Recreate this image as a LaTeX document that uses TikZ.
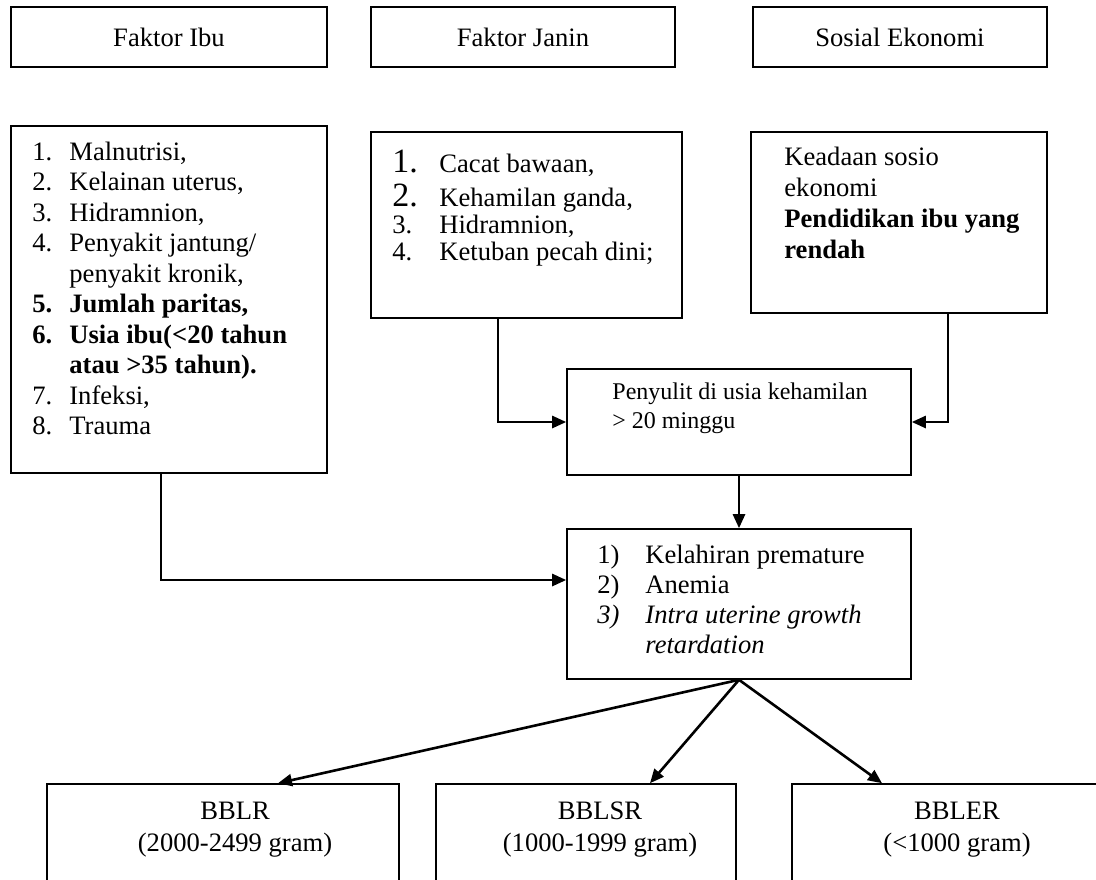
\documentclass[tikz,border=0pt]{standalone}
\usepackage{fontspec}
\setmainfont{Liberation Serif}
\usetikzlibrary{arrows.meta}

\begin{document}
\begin{tikzpicture}[x=0.5pt, y=-0.5pt,
                    every node/.style={font=\fontsize{13.3}{15.25}\selectfont},
                    kotak/.style={draw, line width=0.8pt, inner sep=0pt},
                    isi/.style={inner sep=0pt, anchor=base west},
                    panah/.style={line width=1.3pt, -{Triangle[length=7pt,width=6pt]}}]
  % page frame; the bottom row of boxes runs off the page
  \useasboundingbox (0,0) rectangle (1096,879);
  \clip (0,0) rectangle (1096,879);
  % header row
  \node[kotak, minimum width=158pt, minimum height=30pt] (fIbu)    at (169,37) {Faktor Ibu};
  \node[kotak, minimum width=152pt, minimum height=30pt] (fJanin)  at (523,37) {Faktor Janin};
  \node[kotak, minimum width=147pt, minimum height=30pt] (fSosial) at (900,37) {Sosial Ekonomi};
  % detail boxes
  \node[kotak, minimum width=158pt,   minimum height=173.5pt] (dIbu)    at (169,299.5) {};
  \node[kotak, minimum width=155.5pt, minimum height=93pt]    (dJanin)  at (526.5,225) {};
  \node[kotak, minimum width=148pt,   minimum height=90.5pt]  (dSosial) at (899,222.5) {};
  \node[isi] (tIbu) at (32,160) {\begin{tabular}[t]{@{}p{18.5pt}@{}l@{}}
    1. & Malnutrisi,\\
    2. & Kelainan uterus,\\
    3. & Hidramnion,\\
    4. & Penyakit jantung/\\
       & penyakit kronik,\\
    \textbf{5.} & \textbf{Jumlah paritas,}\\
    \textbf{6.} & \textbf{Usia ibu(<20 tahun}\\
       & \textbf{atau >35 tahun).}\\
    7. & Infeksi,\\
    8. & Trauma
  \end{tabular}};
  \node[isi, font=\fontsize{13.3}{13.5}\selectfont] (tJanin) at (392,172) {\begin{tabular}[t]{@{}p{23.5pt}@{}l@{}}
    {\fontsize{17}{17}\selectfont 1.} & Cacat bawaan,\\[2pt]
    {\fontsize{17}{17}\selectfont 2.} & Kehamilan ganda,\\
    3. & Hidramnion,\\
    4. & Ketuban pecah dini;
  \end{tabular}};
  \node[isi, font=\fontsize{13.3}{15.5}\selectfont] (tSosial) at (784,165) {\begin{tabular}[t]{@{}l@{}}
    Keadaan sosio\\
    ekonomi\\
    \textbf{Pendidikan ibu yang}\\
    \textbf{rendah}
  \end{tabular}};
  % middle: complication and result
  \node[kotak, minimum width=172pt, minimum height=53pt] (penyulit) at (739,422) {};
  \node[isi, font=\fontsize{12}{14.5}\selectfont] (tPenyulit) at (612,399) {\begin{tabular}[t]{@{}l@{}}
    Penyulit di usia kehamilan\\
    > 20 minggu
  \end{tabular}};
  \node[kotak, minimum width=172pt, minimum height=75pt] (hasil) at (739,604) {};
  \node[isi, font=\fontsize{13.3}{15.15}\selectfont] (tHasil) at (597,563) {\begin{tabular}[t]{@{}p{24pt}@{}l@{}}
    1) & Kelahiran premature\\
    2) & Anemia\\
    \textit{3)} & \textit{Intra uterine growth}\\
       & \textit{retardation}
  \end{tabular}};
  % birth weight classes
  \node[kotak, minimum width=176pt, minimum height=58pt] (bblr)  at (223,842) {};
  \node[kotak, minimum width=150pt, minimum height=58pt] (bblsr) at (586,842) {};
  \node[kotak, minimum width=153pt, minimum height=58pt] (bbler) at (945,842) {};
  \node[isi, anchor=base, font=\fontsize{13.3}{16}\selectfont] (tBblr)  at (235,819) {\begin{tabular}[t]{@{}c@{}}BBLR\\(2000-2499 gram)\end{tabular}};
  \node[isi, anchor=base, font=\fontsize{13.3}{16}\selectfont] (tBblsr) at (600,819) {\begin{tabular}[t]{@{}c@{}}BBLSR\\(1000-1999 gram)\end{tabular}};
  \node[isi, anchor=base, font=\fontsize{13.3}{16}\selectfont] (tBbler) at (957,819) {\begin{tabular}[t]{@{}c@{}}BBLER\\(<1000 gram)\end{tabular}};
  % connectors
  \draw[panah] ([xshift=-14.25pt]dJanin.south) |- (penyulit.west);
  \draw[panah] ([xshift=24.5pt]dSosial.south) |- (penyulit.east);
  \draw[panah] ([xshift=-4pt]dIbu.south) |- ([yshift=12pt]hasil.west);
  \draw[panah] (penyulit) -- (hasil);
  \draw[panah] (hasil.south) -- ([xshift=27.5pt]bblr.north);
  \draw[panah] (hasil.south) -- ([xshift=32pt]bblsr.north);
  \draw[panah] (hasil.south) -- ([xshift=-31.5pt]bbler.north);
\end{tikzpicture}
\end{document}
